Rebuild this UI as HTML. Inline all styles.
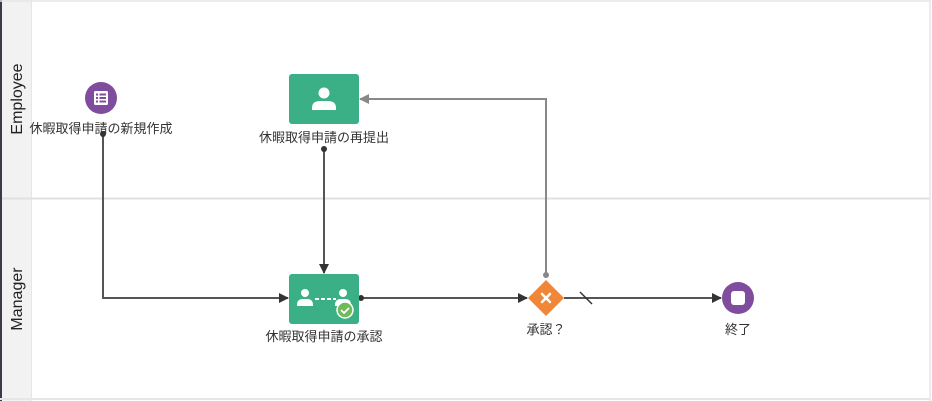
<!DOCTYPE html>
<html><head><meta charset="utf-8"><style>
html,body{margin:0;padding:0;background:#fff;width:932px;height:401px;overflow:hidden}
text{font-family:"Liberation Sans","Noto Sans CJK JP",sans-serif}
</style></head><body>
<svg width="932" height="401" xmlns="http://www.w3.org/2000/svg">
<defs>
<marker id="a" markerWidth="10" markerHeight="10" refX="9" refY="5" orient="auto" markerUnits="userSpaceOnUse"><path d="M0,0 L10,5 L0,10 z" fill="#333"/></marker>
<marker id="g" markerWidth="10" markerHeight="10" refX="9" refY="5" orient="auto" markerUnits="userSpaceOnUse"><path d="M0,0 L10,5 L0,10 z" fill="#888"/></marker>
</defs>
<rect x="0" y="0" width="932" height="401" fill="#fff"/>
<rect x="0" y="0" width="2" height="401" fill="#3a3a4a"/>
<rect x="2" y="0" width="30" height="401" fill="#f2f2f2"/>
<line x1="31.5" y1="0" x2="31.5" y2="401" stroke="#e6e6e6"/>
<line x1="0" y1="1" x2="930" y2="1" stroke="#e6e6e6" stroke-width="1.5"/>
<line x1="2" y1="198.5" x2="930" y2="198.5" stroke="#e0e0e0" stroke-width="2"/>
<line x1="0" y1="399" x2="930" y2="399" stroke="#e6e6e6" stroke-width="2"/>
<line x1="930" y1="0" x2="930" y2="401" stroke="#e6e6e6" stroke-width="1.5"/>
<text transform="translate(22,99) rotate(-90)" text-anchor="middle" font-size="16" fill="#222">Employee</text>
<text transform="translate(22,299) rotate(-90)" text-anchor="middle" font-size="16" fill="#222">Manager</text>

<path d="M103,134 V298 H288" fill="none" stroke="#555" stroke-width="2" marker-end="url(#a)"/>
<circle cx="103" cy="134" r="3" fill="#333"/>
<path d="M324,149 V273" fill="none" stroke="#555" stroke-width="2" marker-end="url(#a)"/>
<circle cx="324" cy="149" r="3" fill="#333"/>
<path d="M361,298 H527" fill="none" stroke="#555" stroke-width="2" marker-end="url(#a)"/>
<circle cx="361" cy="298" r="3" fill="#333"/>
<path d="M546,274 V99 H360" fill="none" stroke="#888" stroke-width="2" marker-end="url(#g)"/>
<circle cx="546" cy="275" r="3" fill="#888"/>
<path d="M564,298 H721" fill="none" stroke="#555" stroke-width="2" marker-end="url(#a)"/>
<line x1="580" y1="292" x2="592" y2="304" stroke="#333" stroke-width="1.5"/>

<circle cx="101" cy="98" r="16" fill="#7f4c9e"/>
<rect x="94" y="91" width="14" height="14" rx="1.5" fill="#fff"/>
<g fill="#7f4c9e"><rect x="96" y="93.5" width="2" height="2"/><rect x="99.5" y="93.5" width="6.5" height="2"/><rect x="96" y="97" width="2" height="2"/><rect x="99.5" y="97" width="6.5" height="2"/><rect x="96" y="100.5" width="2" height="2"/><rect x="99.5" y="100.5" width="6.5" height="2"/></g>
<text x="101" y="133" text-anchor="middle" font-size="13" fill="#333">休暇取得申請の新規作成</text>

<rect x="289" y="74" width="70" height="50" rx="3" fill="#3baf85"/>
<circle cx="324" cy="93" r="5.5" fill="#fff"/>
<path d="M312,108 q0,-7 8,-7 h8 q8,0 8,7 v2 h-24z" fill="#fff"/>
<text x="324" y="142" text-anchor="middle" font-size="13" fill="#333">休暇取得申請の再提出</text>

<rect x="289" y="274" width="70" height="50" rx="3" fill="#3baf85"/>
<circle cx="305" cy="293" r="4" fill="#fff"/>
<path d="M297,305 q0,-6 6,-6 h4 q6,0 6,6 v1 h-16z" fill="#fff"/>
<line x1="315" y1="299" x2="336" y2="299" stroke="#fff" stroke-width="2" stroke-dasharray="4,2"/>
<circle cx="343" cy="293" r="4" fill="#fff"/>
<path d="M335,305 q0,-6 6,-6 h4 q6,0 6,6 v1 h-16z" fill="#fff"/>
<circle cx="345" cy="310" r="8" fill="#6fba5a" stroke="#fff" stroke-width="1.5"/>
<path d="M341,310 l3,3 l5,-5" fill="none" stroke="#fff" stroke-width="1.8"/>
<text x="324" y="341" text-anchor="middle" font-size="13" fill="#333">休暇取得申請の承認</text>

<path d="M546,280 L564,298 L546,316 L528,298 z" fill="#ef8638"/>
<path d="M542,294 l8,8 M550,294 l-8,8" stroke="#fff" stroke-width="2.5" stroke-linecap="round"/>
<text x="546" y="334" text-anchor="middle" font-size="13" fill="#333">承認？</text>

<circle cx="738" cy="298" r="16" fill="#7f4c9e"/>
<rect x="731" y="291" width="14" height="14" rx="3" fill="#fff"/>
<text x="738" y="334" text-anchor="middle" font-size="13" fill="#333">終了</text>
</svg>
</body></html>
